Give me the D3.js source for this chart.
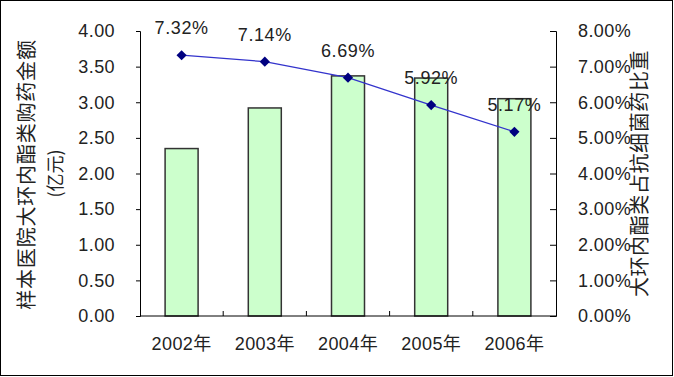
<!DOCTYPE html>
<html>
<head>
<meta charset="utf-8">
<script src="https://cdn.jsdelivr.net/npm/d3@7"></script>
<style>
  body { margin: 0; background: #fff; }
  text { font-family: "Liberation Sans", Arial, "Noto Sans CJK SC", sans-serif; }
</style>
</head>
<body>
<script>
var years = ["2002年", "2003年", "2004年", "2005年", "2006年"];
var amounts = [2.35, 2.92, 3.37, 3.34, 3.05];   // 亿元
var shares = [7.32, 7.14, 6.69, 5.92, 5.17];   // %
var leftTicks = [0, 0.5, 1, 1.5, 2, 2.5, 3, 3.5, 4];
var rightTicks = [0, 1, 2, 3, 4, 5, 6, 7, 8];

var W = 674, H = 377;
var margin = { left: 140, right: 118, top: 31, bottom: 61 };
var width = W - margin.left - margin.right;
var height = H - margin.top - margin.bottom;

var svg = d3.select("body").append("svg")
    .attr("width", W)
    .attr("height", H);

// outer border
svg.append("rect")
    .attr("x", 0.5).attr("y", 0.5)
    .attr("width", W - 2).attr("height", H - 2)
    .attr("fill", "#fff")
    .attr("stroke", "#000");

var g = svg.append("g")
    .attr("transform", `translate(${margin.left}, ${margin.top})`);

var xc = d3.scaleBand().domain(years).range([0, width]);

var yL = d3.scaleLinear().domain([0, 4]).range([height, 0]);
var yR = d3.scaleLinear().domain([0, 8]).range([height, 0]);

// bars
g.selectAll("rect.bar")
    .data(amounts)
    .enter()
    .append("rect")
    .attr("class", "bar")
    .attr("x", (d, i) => xc(years[i]) + xc.bandwidth() / 2 - 16.5)
    .attr("y", d => yL(d))
    .attr("width", 33)
    .attr("height", d => height - yL(d))
    .attr("fill", "#ccffcc")
    .attr("stroke", "#333")
    .attr("stroke-width", 1.5);

var fontStack = "\"Liberation Sans\", Arial, \"Noto Sans CJK SC\", sans-serif";

// left axis
var leftAxis = g.append("g")
    .call(d3.axisLeft(yL).tickValues(leftTicks).tickFormat(d3.format(".2f")).tickSize(4).tickPadding(21));
// right axis
var rightAxis = g.append("g")
    .attr("transform", `translate(${width}, 0)`)
    .call(d3.axisRight(yR).tickValues(rightTicks).tickFormat(d => d3.format(".2f")(d) + "%").tickSize(-6).tickPadding(22));
// bottom axis
var bottomAxis = g.append("g")
    .attr("transform", `translate(0, ${height})`)
    .call(d3.axisBottom(xc).tickSize(0).tickPadding(21));

[leftAxis, rightAxis, bottomAxis].forEach(a => {
    a.select(".domain").attr("stroke", "#000");
    a.selectAll(".tick line").attr("stroke", "#000");
    a.selectAll("text")
        .attr("font-size", 18)
        .attr("letter-spacing", 0.4)
        .attr("fill", "#222")
        .style("font-family", fontStack);
});
bottomAxis.select(".domain").attr("d", `M0,0H${width}`);

// category boundary ticks pointing up
g.append("g")
    .selectAll("line")
    .data(years.slice(1))
    .enter()
    .append("line")
    .attr("x1", d => xc(d)).attr("x2", d => xc(d))
    .attr("y1", height).attr("y2", height - 5)
    .attr("stroke", "#000");

// line series
var line = d3.line()
    .x((d, i) => xc(years[i]) + xc.bandwidth() / 2)
    .y(d => yR(d));

g.append("path")
    .datum(shares)
    .attr("d", line)
    .attr("fill", "none")
    .attr("stroke", "#3333cc")
    .attr("stroke-width", 1.3);

g.selectAll("path.marker")
    .data(shares)
    .enter()
    .append("path")
    .attr("class", "marker")
    .attr("d", d3.symbol().type(d3.symbolSquare).size(52))
    .attr("transform", (d, i) => `translate(${xc(years[i]) + xc.bandwidth() / 2}, ${yR(d)}) rotate(45)`)
    .attr("fill", "#000080");

g.selectAll("text.lbl")
    .data(shares)
    .enter()
    .append("text")
    .attr("class", "lbl")
    .attr("x", (d, i) => xc(years[i]) + xc.bandwidth() / 2)
    .attr("y", d => yR(d) - 21)
    .attr("text-anchor", "middle")
    .attr("font-size", 18)
    .attr("letter-spacing", 0.6)
    .attr("fill", "#222")
    .text(d => d.toFixed(2) + "%");

// axis titles
var cy = margin.top + height / 2;
svg.append("text")
    .attr("transform", `translate(34, ${cy + 1}) rotate(-90)`)
    .attr("text-anchor", "middle")
    .attr("font-size", 20)
    .attr("letter-spacing", 0.8)
    .attr("fill", "#222")
    .style("font-family", "\"Noto Sans CJK SC\", sans-serif")
    .text("样本医院大环内酯类购药金额");
svg.append("text")
    .attr("transform", `translate(62, ${cy}) rotate(-90)`)
    .attr("text-anchor", "middle")
    .attr("font-size", 18)
    .attr("fill", "#222")
    .style("font-family", "\"Noto Sans CJK SC\", sans-serif")
    .text("(亿元)");
svg.append("text")
    .attr("transform", `translate(647, ${cy}) rotate(-90)`)
    .attr("text-anchor", "middle")
    .attr("font-size", 20)
    .attr("letter-spacing", 0.6)
    .attr("fill", "#222")
    .style("font-family", "\"Noto Sans CJK SC\", sans-serif")
    .text("大环内酯类占抗细菌药比重");
</script>
</body>
</html>
